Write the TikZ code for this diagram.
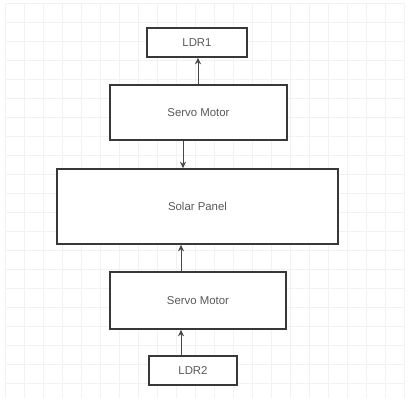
\documentclass[tikz,border=0pt]{standalone}
\usepackage{fontspec}
\setmainfont{Liberation Sans}
\usetikzlibrary{arrows.meta}
\begin{document}
\begin{tikzpicture}[x=1pt,y=-1pt,
  blk/.style={draw=black!78,line width=1.6pt,fill=white,inner sep=0pt,
    font=\fontsize{11.4}{13}\selectfont,text=black!65},
  conn/.style={draw=black!72,line width=0.9pt,-{Stealth[length=6.5pt,width=6pt]}},
  gridline/.style={draw=black!5,line width=0.8pt}]
\useasboundingbox (0,0) rectangle (408,401);
\fill[white] (0,0) rectangle (408,401);
\foreach \i in {0,...,21} {
  \draw[gridline] (5+19*\i,3) -- (5+19*\i,398);
  \draw[gridline] (5,3+19*\i) -- (405,3+19*\i);
}
\node[blk,minimum width=100pt,minimum height=29pt] (ldr1) at (197,42.5) {LDR1};
\node[blk,minimum width=177pt,minimum height=55pt] (sm1) at (198.5,112.5) {Servo Motor};
\node[blk,minimum width=281pt,minimum height=75pt] (sp) at (197.5,206.5) {Solar Panel};
\node[blk,minimum width=176pt,minimum height=57pt] (sm2) at (198,300.5) {Servo Motor};
\node[blk,minimum width=88pt,minimum height=29pt] (ldr2) at (193,370.5) {LDR2};
\draw[conn] (sm1.north -| 198,0) -- (ldr1.south -| 198,0);
\draw[conn] (sm1.south -| 183,0) -- (sp.north -| 183,0);
\draw[conn] (sm2.north -| 181,0) -- (sp.south -| 181,0);
\draw[conn] (ldr2.north -| 181,0) -- (sm2.south -| 181,0);
\end{tikzpicture}
\end{document}
